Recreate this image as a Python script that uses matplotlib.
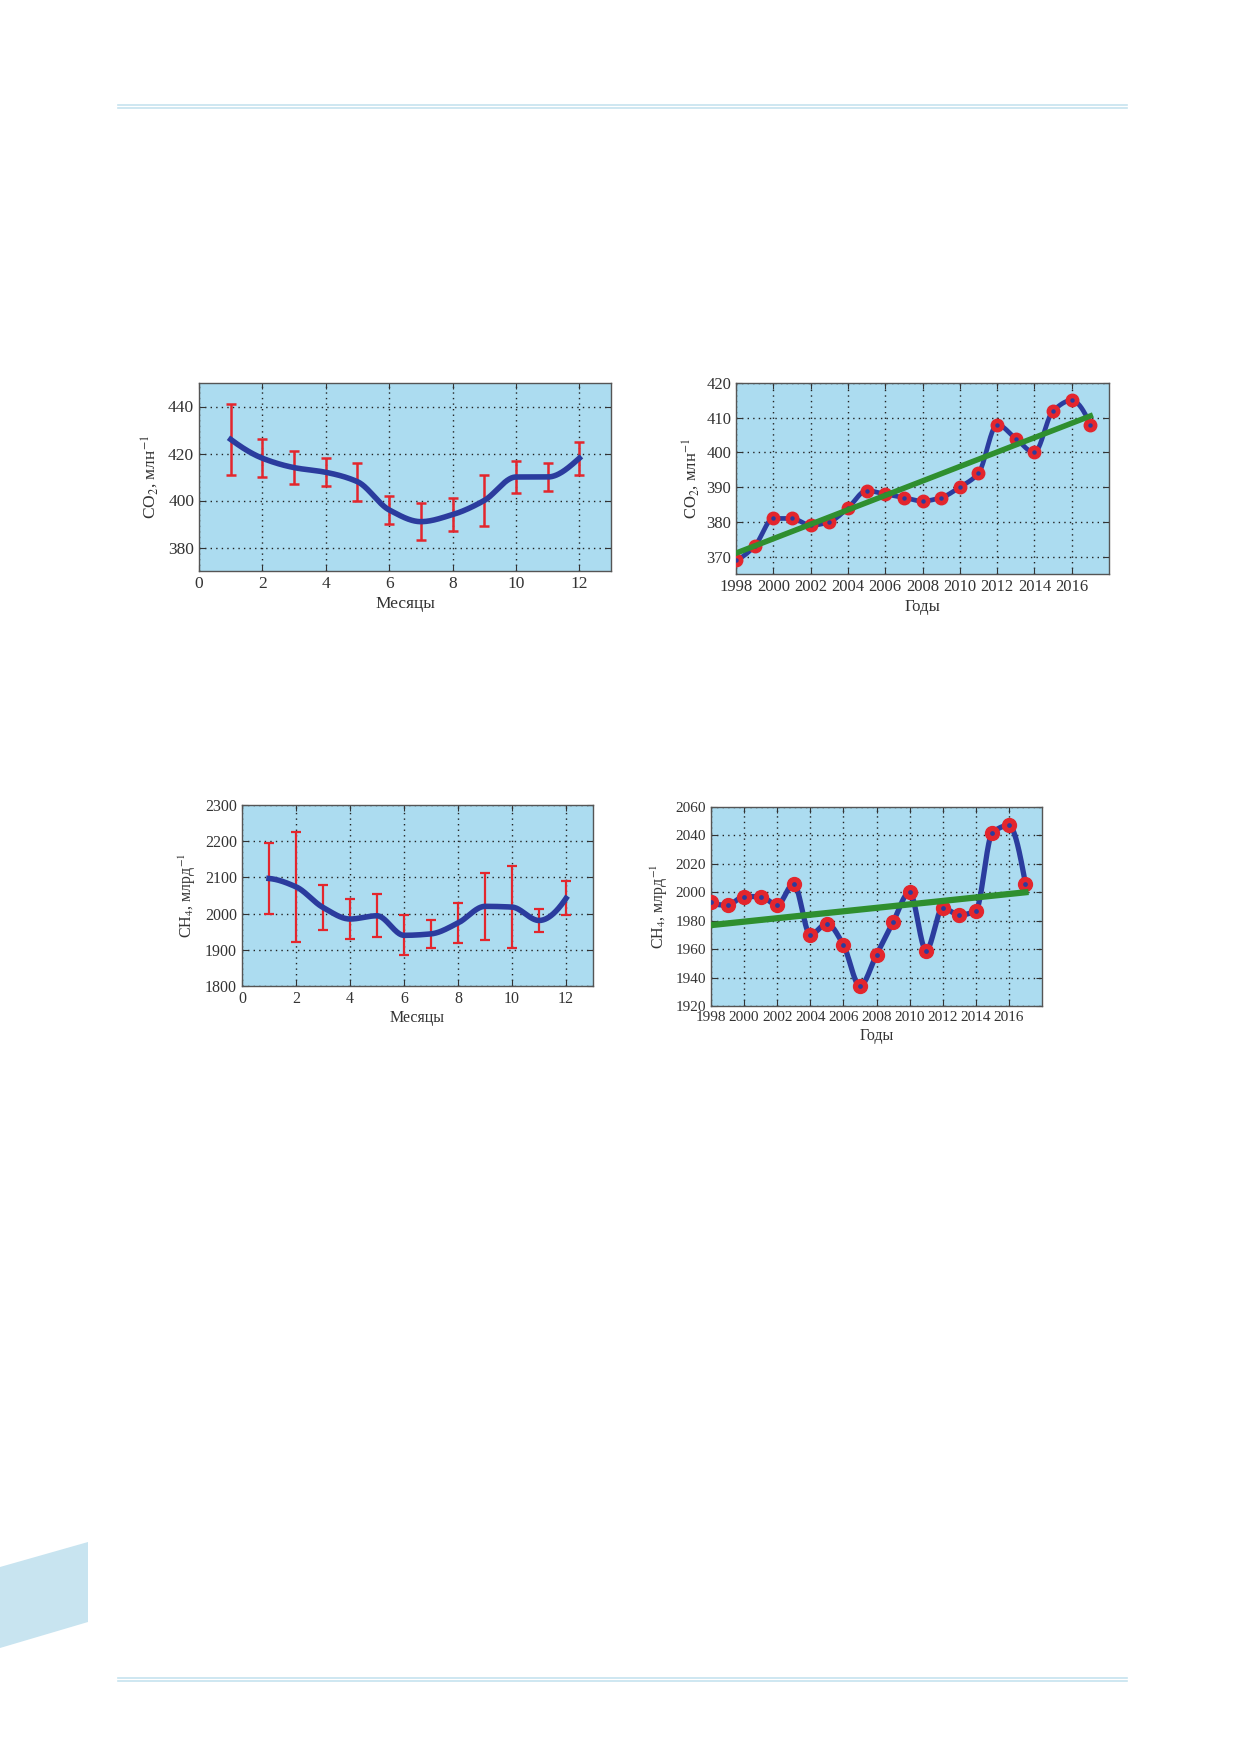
import numpy as np
import matplotlib
matplotlib.use('Agg')
import matplotlib.pyplot as plt
from matplotlib.lines import Line2D
from matplotlib.patches import Polygon

plt.rcParams['font.family'] = ['Liberation Serif', 'DejaVu Serif']
plt.rcParams['mathtext.fontset'] = 'stix'

# --- data ---
months = [1, 2, 3, 4, 5, 6, 7, 8, 9, 10, 11, 12]

co2_month = [426, 418, 414, 412, 408, 396, 391, 394, 400, 410, 410, 418]
co2_month_lo = [411, 410, 407, 406, 400, 390, 383, 387, 389, 403, 404, 411]
co2_month_hi = [441, 426, 421, 418, 416, 402, 399, 401, 411, 417, 416, 425]

ch4_month = [2097, 2074, 2017, 1985, 1994, 1940, 1944, 1974, 2020, 2018, 1981, 2042]
ch4_month_lo = [2000, 1922, 1956, 1930, 1935, 1885, 1905, 1920, 1928, 1905, 1950, 1995]
ch4_month_hi = [2195, 2226, 2078, 2040, 2053, 1995, 1983, 2028, 2113, 2132, 2013, 2090]

years = list(range(1998, 2018))
co2_year = [369, 373, 381, 381, 379, 380, 384, 389, 388, 387,
            386, 387, 390, 394, 408, 404, 400, 412, 415, 408]
ch4_year = [1993, 1991, 1997, 1997, 1991, 2006, 1970, 1978, 1963, 1934,
            1956, 1979, 2000, 1959, 1989, 1984, 1987, 2042, 2047, 2006]

BG = '#acdcf0'
BLUE = '#2b3c9e'
RED = '#e3262d'
GREEN = '#2f8f2f'
PAGE = '#c6e3ef'
TXT = '#333333'

W, H = 1239, 1752


def smooth(x, y, n=600):
    # shape-preserving cubic (pchip), only used to draw the line through the points
    x = np.asarray(x, float)
    y = np.asarray(y, float)
    N = len(x)
    h = np.diff(x)
    dl = np.diff(y) / h
    m = np.zeros(N)
    for k in range(1, N - 1):
        if dl[k - 1] * dl[k] > 0:
            w1 = 2 * h[k] + h[k - 1]
            w2 = h[k] + 2 * h[k - 1]
            m[k] = (w1 + w2) / (w1 / dl[k - 1] + w2 / dl[k])

    def end(h0, h1, d0, d1):
        v = ((2 * h0 + h1) * d0 - h0 * d1) / (h0 + h1)
        if np.sign(v) != np.sign(d0):
            return 0.0
        if np.sign(d0) != np.sign(d1) and abs(v) > abs(3 * d0):
            return 3 * d0
        return v

    m[0] = end(h[0], h[1], dl[0], dl[1])
    m[-1] = end(h[-1], h[-2], dl[-1], dl[-2])
    xs = np.linspace(x[0], x[-1], n)
    i = np.clip(np.searchsorted(x, xs) - 1, 0, N - 2)
    t = (xs - x[i]) / h[i]
    h00 = 2 * t ** 3 - 3 * t ** 2 + 1
    h10 = t ** 3 - 2 * t ** 2 + t
    h01 = -2 * t ** 3 + 3 * t ** 2
    h11 = t ** 3 - t ** 2
    ys = h00 * y[i] + h10 * h[i] * m[i] + h01 * y[i + 1] + h11 * h[i] * m[i + 1]
    return xs, ys


def px_axes(fig, l, t, r, b):
    return fig.add_axes([l / W, 1 - b / H, (r - l) / W, (b - t) / H])


def style(ax, fs):
    ax.set_facecolor(BG)
    ax.grid(True, linestyle=(0, (1, 3)), color='#222222', linewidth=1.0)
    ax.tick_params(direction='in', top=True, right=True, labelsize=fs,
                   colors=TXT, length=4)
    for s in ax.spines.values():
        s.set_color('#555555')
        s.set_linewidth(1.0)


fig = plt.figure(figsize=(W / 100, H / 100), dpi=100)

# page decoration
for yy in (105, 108, 1678, 1681):
    fig.add_artist(Line2D([118 / W, 1127 / W], [1 - yy / H, 1 - yy / H],
                          color=PAGE, lw=1.2, transform=fig.transFigure))
fig.add_artist(Polygon([[0, 1 - 1567 / H], [88 / W, 1 - 1542 / H],
                        [88 / W, 1 - 1622 / H], [0, 1 - 1648 / H]],
                       closed=True, facecolor='#c8e4f0', edgecolor='none',
                       transform=fig.transFigure))

# CO2 by month
ax1 = px_axes(fig, 199, 383, 611, 571)
style(ax1, 12.5)
err = [np.array(co2_month) - np.array(co2_month_lo),
       np.array(co2_month_hi) - np.array(co2_month)]
ax1.errorbar(months, co2_month, yerr=err, fmt='none', ecolor=RED,
             elinewidth=1.8, capsize=3.5, capthick=1.8, zorder=3)
xs, ys = smooth(months, co2_month)
ax1.plot(xs, ys, color=BLUE, lw=4, zorder=4)
ax1.set_xlim(0, 13)
ax1.set_ylim(370, 450)
ax1.set_xticks(range(0, 13, 2))
ax1.set_yticks([380, 400, 420, 440])
ax1.set_xlabel('Месяцы', fontsize=12.5, color=TXT, labelpad=3)
ax1.set_ylabel('CO$_2$, млн$^{-1}$', fontsize=12.5, color=TXT, labelpad=6)

# CO2 by year
ax2 = px_axes(fig, 736, 383, 1109, 574)
style(ax2, 12)
xs, ys = smooth(years, co2_year)
ax2.plot(xs, ys, color=BLUE, lw=3.4, zorder=3)
ax2.plot(years, co2_year, 'o', ms=9, mfc=RED, mec=RED, zorder=4)
ax2.plot(years, co2_year, 'o', ms=2.2, mfc=BLUE, mec=BLUE, zorder=4.5)
k, c0 = np.polyfit(years, co2_year, 1)
ax2.plot([years[0], years[-1]], [k * years[0] + c0, k * years[-1] + c0],
         color=GREEN, lw=4, zorder=5)
ax2.set_xlim(1998, 2018)
ax2.set_ylim(365, 420)
ax2.set_xticks(range(1998, 2017, 2))
ax2.set_yticks(range(370, 421, 10))
ax2.set_xlabel('Годы', fontsize=12, color=TXT, labelpad=3)
ax2.set_ylabel('CO$_2$, млн$^{-1}$', fontsize=12, color=TXT, labelpad=4)

# CH4 by month
ax3 = px_axes(fig, 242, 805, 593, 986)
style(ax3, 11.5)
err = [np.array(ch4_month) - np.array(ch4_month_lo),
       np.array(ch4_month_hi) - np.array(ch4_month)]
ax3.errorbar(months, ch4_month, yerr=err, fmt='none', ecolor=RED,
             elinewidth=1.6, capsize=3.5, capthick=1.6, zorder=3)
xs, ys = smooth(months, ch4_month)
ax3.plot(xs, ys, color=BLUE, lw=4, zorder=4)
ax3.set_xlim(0, 13)
ax3.set_ylim(1800, 2300)
ax3.set_xticks(range(0, 13, 2))
ax3.set_yticks(range(1800, 2301, 100))
ax3.set_xlabel('Месяцы', fontsize=11.5, color=TXT, labelpad=2)
ax3.set_ylabel('CH$_4$, млрд$^{-1}$', fontsize=11.5, color=TXT, labelpad=5)

# CH4 by year
ax4 = px_axes(fig, 711, 807, 1042, 1006)
style(ax4, 11)
xs, ys = smooth(years, ch4_year)
ax4.plot(xs, ys, color=BLUE, lw=3.8, zorder=3)
ax4.plot(years, ch4_year, 'o', ms=10, mfc=RED, mec=RED, zorder=4)
ax4.plot(years, ch4_year, 'o', ms=2.4, mfc=BLUE, mec=BLUE, zorder=4.5)
k, c0 = np.polyfit(years, ch4_year, 1)
ax4.plot([years[0], years[-1]], [k * years[0] + c0, k * years[-1] + c0],
         color=GREEN, lw=4.5, zorder=5)
ax4.set_xlim(1998, 2018)
ax4.set_ylim(1920, 2060)
ax4.set_xticks(range(1998, 2017, 2))
ax4.set_yticks(range(1920, 2061, 20))
ax4.set_xlabel('Годы', fontsize=11.5, color=TXT, labelpad=3)
ax4.set_ylabel('CH$_4$, млрд$^{-1}$', fontsize=11.5, color=TXT, labelpad=4)

fig.savefig('out.png', dpi=100, facecolor='white')
